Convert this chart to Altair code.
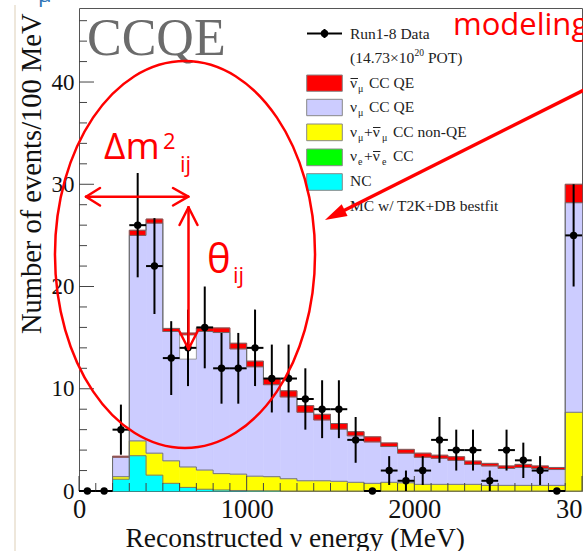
import altair as alt
import pandas as pd

# ---------------- data ----------------
bin_low = [0, 100, 200, 300, 400, 500, 600, 700, 800, 900, 1000, 1100, 1200, 1300, 1400,
           1500, 1600, 1700, 1800, 1900, 2000, 2100, 2200, 2300, 2400, 2500, 2600, 2700, 2800, 2900]
bin_high = [100, 200, 300, 400, 500, 600, 700, 800, 900, 1000, 1100, 1200, 1300, 1400, 1500,
            1600, 1700, 1800, 1900, 2000, 2100, 2200, 2300, 2400, 2500, 2600, 2700, 2800, 2900, 3000]

data_counts = [0, 0, 6, 26, 22, 13, 14, 16, 12, 12, 14, 11, 11, 9, 8,
               8, 5, 0, 2, 1, 2, 5, 4, 4, 1, 4, 3, 2, 0, 25]
data_errors = [0, 0, 2.45, 5.1, 4.69, 3.61, 3.74, 4.0, 3.46, 3.46, 3.74, 3.32, 3.32, 3.0, 2.83,
               2.83, 2.24, 0, 1.41, 1.0, 1.41, 2.24, 2.0, 2.0, 1.0, 2.0, 1.73, 1.41, 0, 5.0]

mc_nc = [0, 0, 1.15, 3.45, 1.55, 0.75, 0.35, 0.17, 0.1, 0.05, 0.03, 0.02, 0, 0, 0,
         0, 0, 0, 0, 0, 0, 0, 0, 0, 0, 0, 0, 0, 0, 0]
mc_nue = [0, 0, 0, 0, 0, 0, 0, 0, 0, 0, 0, 0, 0, 0, 0,
          0, 0, 0, 0, 0, 0, 0, 0, 0, 0, 0, 0, 0, 0, 0]
mc_nonqe = [0, 0, 0.25, 1.45, 2.15, 2.2, 2.0, 1.88, 1.6, 1.6, 1.42, 1.38, 1.2, 1.0, 1.0,
            0.95, 0.85, 0.75, 0.85, 0.8, 0.65, 0.65, 0.65, 0.65, 0.55, 0.55, 0.55, 0.55, 0.55, 7.7]
mc_numu_qe = [0, 0, 1.9, 20.1, 22.5, 12.65, 12.85, 13.55, 13.8, 12.25, 10.7, 9.0, 8.0, 6.7, 5.95,
              5.1, 4.55, 4.05, 3.5, 2.9, 2.65, 2.55, 2.35, 1.95, 1.9, 1.65, 1.75, 1.65, 1.55, 20.5]
mc_numubar_qe = [0, 0, 0.1, 0.5, 0.4, 0.3, 0.25, 0.35, 0.45, 0.55, 0.55, 0.6, 0.6, 0.65, 0.55,
                 0.55, 0.4, 0.5, 0.35, 0.37, 0.4, 0.3, 0.35, 0.33, 0.25, 0.25, 0.3, 0.25, 0.2, 1.8]

component_names = ["NC", "nue_cc", "nonqe", "numu_qe", "numubar_qe"]
component_colors = ["#00ffff", "#00ff00", "#ffff00", "#ccccff", "#ff0000"]

x_label_values = [0, 1000, 2000, 3000]
y_label_values = [0, 10, 20, 30, 40]
x_minor_ticks = [100, 200, 300, 400, 500, 600, 700, 800, 900, 1100, 1200, 1300, 1400, 1500,
                 1600, 1700, 1800, 1900, 2100, 2200, 2300, 2400, 2500, 2600, 2700, 2800, 2900]
y_minor_ticks = [2, 4, 6, 8, 12, 14, 16, 18, 22, 24, 26, 28, 32, 34, 36, 38, 42, 44, 46]

# ---------------- geometry ----------------
XMAX = 3000
YMAX = 47.24
W, H = 503, 483
L, T = 79, 8
SERIF = "Liberation Serif"
SANS = "Open Sans"


def dx(px):
    return (px - L) * XMAX / W


def dy(py):
    return (T + H - py) * YMAX / H


xscale = alt.Scale(domain=[0, XMAX], nice=False, zero=False)
yscale = alt.Scale(domain=[0, YMAX], nice=False, zero=False)

x_axis = alt.Axis(values=x_label_values, format="d", ticks=False, tickSize=0, domain=False,
                  grid=False, labelFont=SERIF, labelFontSize=26.5, labelColor="#111",
                  labelPadding=5, labelFlush=False, labelOverlap=False,
                  title="Reconstructed ν energy (MeV)", titleFont=SERIF, titleFontSize=27.5,
                  titleFontWeight="normal", titleColor="#111", titleX=46, titleY=55,
                  titleAlign="left", titleBaseline="alphabetic")
y_axis = alt.Axis(values=y_label_values, format="d", ticks=False, tickSize=0, domain=False,
                  grid=False, labelFont=SERIF, labelFontSize=23, labelColor="#111",
                  labelPadding=5, labelFlush=False, labelOverlap=False,
                  title="Number of events/100 MeV", titleFont=SERIF, titleFontSize=28.5,
                  titleFontWeight="normal", titleColor="#111", titleAngle=270,
                  titleX=-39, titleY=5, titleAlign="right", titleBaseline="alphabetic")


def X(field):
    return alt.X(field, scale=xscale, axis=x_axis)


def Y(field):
    return alt.Y(field, scale=yscale, axis=y_axis)


# ---------------- histogram stack ----------------
series = [mc_nc, mc_nue, mc_nonqe, mc_numu_qe, mc_numubar_qe]
rect_rows = []
step_rows = []
for i in range(len(bin_low)):
    base = 0.0
    for k, (name, arr) in enumerate(zip(component_names, series)):
        v = arr[i]
        if v > 0:
            rect_rows.append(dict(x0=bin_low[i], x1=bin_high[i], y0=base, y1=base + v, comp=name))
        base += v
        step_rows.append(dict(level=k, xe=bin_low[i], top=base))
        if i == len(bin_low) - 1:
            step_rows.append(dict(level=k, xe=bin_high[i], top=base))
hist_df = pd.DataFrame(rect_rows)
step_df = pd.DataFrame(step_rows)
step_df = step_df[step_df["level"] != 1]  # nu_e level coincides with NC level

comp_scale_fill = alt.Scale(domain=component_names, range=component_colors)
comp_scale_stroke = alt.Scale(domain=component_names, range=component_colors)
hist = alt.Chart(hist_df).mark_rect(strokeWidth=0.6).encode(
    x=X("x0:Q"), x2="x1:Q", y=Y("y0:Q"), y2="y1:Q",
    color=alt.Color("comp:N", scale=comp_scale_fill, legend=None),
    stroke=alt.Stroke("comp:N", scale=comp_scale_stroke, legend=None),
)
steps = alt.Chart(step_df).mark_line(interpolate="step-after", color="#6a6a6a",
                                     strokeWidth=0.9).encode(
    x=X("xe:Q"), y=Y("top:Q"), detail="level:N", order="xe:Q")

# white patch left by the pasted arrow picture (600-700 MeV bin)
patch_df = pd.DataFrame([dict(x0=600, x1=700, y0=12.9, y1=15.25)])
patch = alt.Chart(patch_df).mark_rect(fill="white", stroke="#888888", strokeWidth=0.8).encode(
    x=X("x0:Q"), x2="x1:Q", y=Y("y0:Q"), y2="y1:Q")

# ---------------- inward axis ticks ----------------
ticks_y_major = alt.Chart(pd.DataFrame({"v": y_label_values})).mark_rule(
    color="#444", strokeWidth=1).encode(x=alt.value(0), x2=alt.value(15), y=Y("v:Q"))
ticks_y_minor = alt.Chart(pd.DataFrame({"v": y_minor_ticks})).mark_rule(
    color="#444", strokeWidth=1).encode(x=alt.value(0), x2=alt.value(8), y=Y("v:Q"))
ticks_x_major = alt.Chart(pd.DataFrame({"v": x_label_values})).mark_rule(
    color="#444", strokeWidth=1).encode(x=X("v:Q"), y=alt.value(H), y2=alt.value(H - 15))
ticks_x_minor = alt.Chart(pd.DataFrame({"v": x_minor_ticks})).mark_rule(
    color="#444", strokeWidth=1).encode(x=X("v:Q"), y=alt.value(H), y2=alt.value(H - 8))

# ---------------- data points ----------------
data_df = pd.DataFrame({"lo": bin_low, "hi": bin_high, "n": data_counts, "e": data_errors})
data_df["c"] = (data_df["lo"] + data_df["hi"]) / 2
data_df["nlo"] = data_df["n"] - data_df["e"]
data_df["nhi"] = data_df["n"] + data_df["e"]

data_h = alt.Chart(data_df).mark_rule(color="black", strokeWidth=2).encode(
    x=X("lo:Q"), x2="hi:Q", y=Y("n:Q"))
data_v = alt.Chart(data_df[data_df["e"] > 0]).mark_rule(color="black", strokeWidth=2).encode(
    x=X("c:Q"), y=Y("nlo:Q"), y2="nhi:Q")
data_p = alt.Chart(data_df).mark_point(filled=True, color="black", size=55, opacity=1).encode(
    x=X("c:Q"), y=Y("n:Q"))


# ---------------- annotation helpers ----------------
def seg_layer(segs, color, width, cap="butt"):
    df = pd.DataFrame(segs, columns=["px1", "py1", "px2", "py2"])
    df["x"] = df["px1"].map(dx)
    df["y"] = df["py1"].map(dy)
    df["x2"] = df["px2"].map(dx)
    df["y2"] = df["py2"].map(dy)
    return alt.Chart(df).mark_rule(color=color, strokeWidth=width, strokeCap=cap).encode(
        x=X("x:Q"), y=Y("y:Q"), x2="x2:Q", y2="y2:Q")


def text_layer(items, font, color):
    df = pd.DataFrame(items, columns=["txt", "px", "py", "fs"])
    df["x"] = df["px"].map(dx)
    df["y"] = df["py"].map(dy)
    return alt.Chart(df).mark_text(font=font, color=color, align="left",
                                   baseline="alphabetic").encode(
        x=X("x:Q"), y=Y("y:Q"), text="txt:N",
        size=alt.Size("fs:Q", scale=None, legend=None))


# ---------------- legend (manual) ----------------
box_rows = [
    (306.7, 75.0, 342.3, 91.3, "#ff0000"),
    (306.7, 99.3, 342.3, 115.7, "#ccccff"),
    (306.7, 124.0, 342.3, 140.7, "#ffff00"),
    (306.7, 149.0, 342.3, 165.7, "#00ff00"),
    (306.7, 173.7, 342.3, 190.3, "#00ffff"),
]
box_df = pd.DataFrame(box_rows, columns=["px1", "py1", "px2", "py2", "col"])
box_df["x"] = box_df["px1"].map(dx)
box_df["x2"] = box_df["px2"].map(dx)
box_df["y"] = box_df["py1"].map(dy)
box_df["y2"] = box_df["py2"].map(dy)
legend_boxes = alt.Chart(box_df).mark_rect(stroke="#888888", strokeWidth=1).encode(
    x=X("x:Q"), x2="x2:Q", y=Y("y:Q"), y2="y2:Q",
    fill=alt.Fill("col:N", scale=None, legend=None))

legend_marker_lines = seg_layer([(307, 33.5, 342, 33.5), (324.5, 29, 324.5, 38)], "black", 2)
legend_marker_dot_df = pd.DataFrame({"x": [dx(324.5)], "y": [dy(33.5)]})
legend_marker_dot = alt.Chart(legend_marker_dot_df).mark_point(
    filled=True, color="black", size=55, opacity=1).encode(x=X("x:Q"), y=Y("y:Q"))

LS = 15.5
SS = 10
legend_texts = text_layer([
    ("Run1-8 Data", 350, 39, LS),
    ("(14.73×10", 350, 63, LS),
    ("20", 414.5, 56, 9.5),
    ("POT)", 428, 63, LS),
    ("ν", 350, 88, LS), ("μ", 358, 92, SS), ("CC QE", 369, 88, LS),
    ("ν", 350, 112, LS), ("μ", 358, 116, SS), ("CC QE", 369, 112, LS),
    ("ν", 350, 137, LS), ("μ", 358, 141, SS), ("+ν", 364, 137, LS), ("μ", 382, 141, SS),
    ("CC non-QE", 393, 137, LS),
    ("ν", 350, 161, LS), ("e", 358, 165, SS), ("+ν", 364, 161, LS), ("e", 382, 165, SS),
    ("CC", 393, 161, LS),
    ("NC", 350, 186, LS),
    ("MC w/ T2K+DB bestfit", 350, 211, LS),
], SERIF, "#222222")
legend_overlines = seg_layer([(350.5, 78.5, 358, 78.5), (373, 127.5, 380.5, 127.5),
                              (373, 151.5, 380.5, 151.5)], "#222222", 1)

ccqe_text = text_layer([("CCQE", 87, 55, 52)], SERIF, "#6b6b6b")

# ---------------- red annotations ----------------
red_texts = text_layer([
    ("Δm", 104, 159, 37),
    ("2", 163, 149, 22),
    ("ij", 180, 172, 22),
    ("θ", 207, 273, 40),
    ("ij", 233, 283, 22),
    ("modeling", 453, 35, 31),
], SANS, "#ff0000")

double_arrows = seg_layer([
    (86, 196.7, 188.3, 196.7),
    (86, 196.7, 100, 188), (86, 196.7, 100, 205.5),
    (188.3, 196.7, 173, 188), (188.3, 196.7, 173, 205.5),
    (188.5, 207.3, 188.5, 349),
    (188.5, 207.3, 179.5, 225), (188.5, 207.3, 197.5, 225),
    (188.5, 349, 179.5, 331.5), (188.5, 349, 197.5, 331.5),
], "#ff0000", 2.5, "round")

big_arrow = seg_layer([(584, 90.0, 340, 212.5)], "#ff0000", 3.5)
head_df = pd.DataFrame({"x": [dx(334.8)], "y": [dy(215.1)]})
big_head = alt.Chart(head_df).mark_point(
    shape="M 0 -1 L 0.6 1 L -0.6 1 Z", filled=True, color="#ff0000", opacity=1,
    size=484, angle=243.4).encode(x=X("x:Q"), y=Y("y:Q"))

ELLIPSE = ("M 0.672 0 C 0.672 0.5523 0.3711 1 0 1 C -0.3711 1 -0.672 0.5523 -0.672 0 "
           "C -0.672 -0.5523 -0.3711 -1 0 -1 C 0.3711 -1 0.672 -0.5523 0.672 0 Z")
ell_df = pd.DataFrame({"x": [dx(185)], "y": [dy(254.5)]})
ellipse = alt.Chart(ell_df).mark_point(
    shape=ELLIPSE, filled=False, color="#ff0000", strokeWidth=2.5, opacity=1,
    size=149769).encode(x=X("x:Q"), y=Y("y:Q"))

# slide decorations (cut-off title text, faint page line)
blue_text = text_layer([("μ", 38, 2, 22)], SANS, "#2e75b6")
page_line = alt.Chart(pd.DataFrame({"a": [0]})).mark_rule(
    color="#e8dfcf", strokeWidth=1.5).encode(
    x=alt.value(15 - L), y=alt.value(-3), y2=alt.value(H + 60))

chart = alt.layer(
    hist, steps, patch,
    ticks_y_major, ticks_y_minor, ticks_x_major, ticks_x_minor,
    data_h, data_v, data_p,
    ccqe_text,
    legend_boxes, legend_marker_lines, legend_marker_dot, legend_texts, legend_overlines,
    ellipse, double_arrows, big_arrow, big_head, red_texts, blue_text, page_line,
).properties(
    width=W, height=H,
    autosize=alt.AutoSizeParams(type="none"),
    padding={"left": L, "top": T, "right": 1, "bottom": 60},
    background="white",
).configure_view(stroke="#555555", strokeWidth=1)

chart.save("out.html", embed_options={"renderer": "svg", "actions": False})
